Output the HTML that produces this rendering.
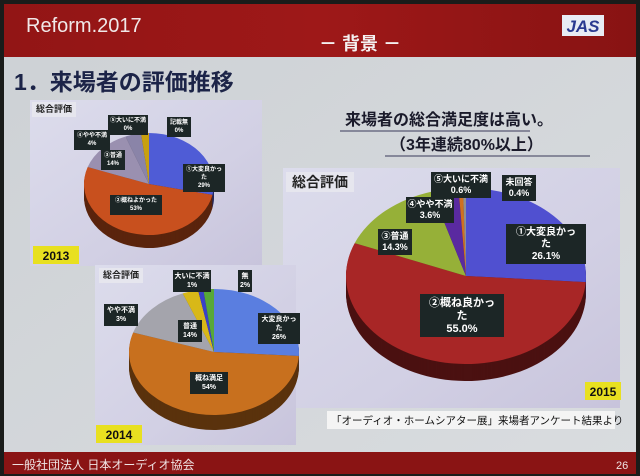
<!DOCTYPE html>
<html><head><meta charset="utf-8"><style>
body{margin:0;width:640px;height:476px;overflow:hidden;background:#1a1c1a;font-family:"Liberation Sans","Noto Sans CJK JP",sans-serif;}
#s{position:absolute;left:0;top:0}
</style></head><body>
<svg id="s" width="640" height="476" viewBox="0 0 640 476" xmlns="http://www.w3.org/2000/svg" font-family="Liberation Sans, Noto Sans CJK JP, sans-serif">
<defs>
<linearGradient id="hd" x1="0" y1="0" x2="1" y2="0"><stop offset="0" stop-color="#921515"/><stop offset="0.5" stop-color="#9e1818"/><stop offset="1" stop-color="#881313"/></linearGradient>
<linearGradient id="bg" x1="0" y1="0" x2="1" y2="1"><stop offset="0" stop-color="#cdd1d5"/><stop offset="1" stop-color="#d9dcdf"/></linearGradient>
<linearGradient id="pn" x1="0" y1="0" x2="1" y2="1"><stop offset="0" stop-color="#dcdcec"/><stop offset="0.6" stop-color="#d2d0e4"/><stop offset="1" stop-color="#c8c4dc"/></linearGradient>
</defs>
<rect x="4" y="4" width="632" height="468" fill="url(#bg)"/>
<rect x="4" y="4" width="632" height="53" fill="url(#hd)"/>
<rect x="4" y="452" width="632" height="22" fill="#8a1414"/>
<text x="26" y="32" font-size="20" fill="#f0e8e8">Reform.2017</text>
<text x="360" y="50" font-size="18" font-weight="bold" fill="#f4f0f0" text-anchor="middle">－  背景  －</text>
<rect x="562" y="15" width="42" height="21" fill="#e8ecf4"/>
<text x="583" y="32" font-size="17" font-weight="bold" font-style="italic" fill="#2a3a90" text-anchor="middle">JAS</text>
<text x="14" y="90" font-size="23" font-weight="bold" fill="#1c2448">1．来場者の評価推移</text>
<text x="12" y="469" font-size="12" fill="#f0e4e4">一般社団法人 日本オーディオ協会</text>
<text x="616" y="469" font-size="11" fill="#f0e4e4">26</text>
<text x="345" y="125" font-size="16" font-weight="bold" fill="#1a1a2a">来場者の総合満足度は高い。</text>
<line x1="340" y1="131" x2="530" y2="131" stroke="#3a3a5a" stroke-width="1"/>
<text x="390" y="150" font-size="16" font-weight="bold" fill="#1a1a2a">（3年連続80%以上）</text>
<line x1="385" y1="156" x2="590" y2="156" stroke="#3a3a5a" stroke-width="1"/>

<rect x="30" y="100" width="232" height="166" fill="url(#pn)"/>
<g id="p13"></g>
<rect x="283" y="168" width="337" height="240" fill="url(#pn)"/>
<g id="p15"></g>
<rect x="95" y="265" width="201" height="180" fill="url(#pn)"/>
<g id="p14"></g>
<g id="lab"></g>
<rect x="327" y="411" width="288" height="18" fill="#f4f4f4"/>
<text x="331" y="424" font-size="10.5" fill="#111">「オーディオ・ホームシアター展」来場者アンケート結果より</text>
</svg>
<script>
const NS="http://www.w3.org/2000/svg";
function el(p,t,a,txt){const e=document.createElementNS(NS,t);for(const k in a)e.setAttribute(k,a[k]);if(txt!==undefined)e.textContent=txt;p.appendChild(e);return e;}
function dark(c,f){const n=parseInt(c.slice(1),16);let r=(n>>16)*f,g=((n>>8)&255)*f,b=(n&255)*f;return `rgb(${r|0},${g|0},${b|0})`;}
function pie(id,cx,cy,rx,ry,d,data){
 const g=document.getElementById(id);
 const tot=data.reduce((a,b)=>a+b[0],0);
 function draw(oy,f){let a=-Math.PI/2;for(const [v,c] of data){const b=a+v/tot*2*Math.PI;
  const x1=cx+rx*Math.cos(a),y1=cy+oy+ry*Math.sin(a),x2=cx+rx*Math.cos(b),y2=cy+oy+ry*Math.sin(b);
  el(g,'path',{d:`M${cx},${cy+oy}L${x1},${y1}A${rx},${ry} 0 ${b-a>Math.PI?1:0} 1 ${x2},${y2}Z`,fill:f?dark(c,f):c});a=b;}}
 for(let i=d;i>0;i--)draw(i,0.45);
 draw(0,0);
}
pie('p13',149,184,65,51,13,[[29,'#4f5cd6'],[53,'#c8501e'],[14,'#9a90b0'],[4,'#8a84a8'],[2,'#c8a010']]);
pie('p14',214,352,85,63,15,[[26,'#5a7ee0'],[54,'#c8701e'],[14,'#a4a4ac'],[3,'#d8b818'],[1,'#3a40c8'],[2,'#58a838']]);
pie('p15',466,276,120,88,17,[[26.1,'#5050d0'],[55,'#a82626'],[14.3,'#96b038'],[3.6,'#5a2aa0'],[0.6,'#d07020'],[0.4,'#909090']]);
const L=document.getElementById('lab');
function box(x,y,w,lines,fs,bg){const h=lines.length*(fs+2)+4;el(L,'rect',{x,y,width:w,height:h,fill:bg||'#1c2626'});
 lines.forEach((t,i)=>el(L,'text',{x:x+w/2,y:y+fs+1+i*(fs+2),'font-size':fs,fill:bg?'#222':'#fff','text-anchor':'middle','font-weight':'bold'},t));}
box(32,102,44,['総合評価'],9,'#e6e6ee');
box(99,268,44,['総合評価'],9,'#e6e6ee');
box(286,172,68,['総合評価'],14,'#e6e6ee');
el(L,'rect',{x:33,y:246,width:46,height:18,fill:'#e8e020'});el(L,'text',{x:56,y:260,'font-size':12,'font-weight':'bold',fill:'#111','text-anchor':'middle'},'2013');
el(L,'rect',{x:96,y:425,width:46,height:18,fill:'#e8e020'});el(L,'text',{x:119,y:439,'font-size':12,'font-weight':'bold',fill:'#111','text-anchor':'middle'},'2014');
el(L,'rect',{x:585,y:382,width:36,height:18,fill:'#e8e020'});el(L,'text',{x:603,y:396,'font-size':12,'font-weight':'bold',fill:'#111','text-anchor':'middle'},'2015');
box(108,115,40,['⑤大いに不満','0%'],6);
box(167,117,24,['記載無','0%'],6);
box(74,130,36,['④やや不満','4%'],6);
box(101,150,24,['③普通','14%'],6);
box(183,164,42,['①大変良かっ','た','29%'],6);
box(110,195,52,['②概ねよかった','53%'],6);
box(173,270,38,['大いに不満','1%'],7);
box(238,270,14,['無','2%'],7);
box(104,304,34,['やや不満','3%'],7);
box(178,320,24,['普通','14%'],7);
box(258,313,42,['大変良かっ','た','26%'],7);
box(190,372,38,['概ね満足','54%'],7);
box(431,172,60,['⑤大いに不満','0.6%'],9);
box(502,175,34,['未回答','0.4%'],9);
box(406,197,48,['④やや不満','3.6%'],9);
box(378,229,34,['③普通','14.3%'],9);
box(506,224,80,['①大変良かっ','た','26.1%'],10);
box(420,294,84,['②概ね良かっ','た','55.0%'],11);
</script>
</body></html>
